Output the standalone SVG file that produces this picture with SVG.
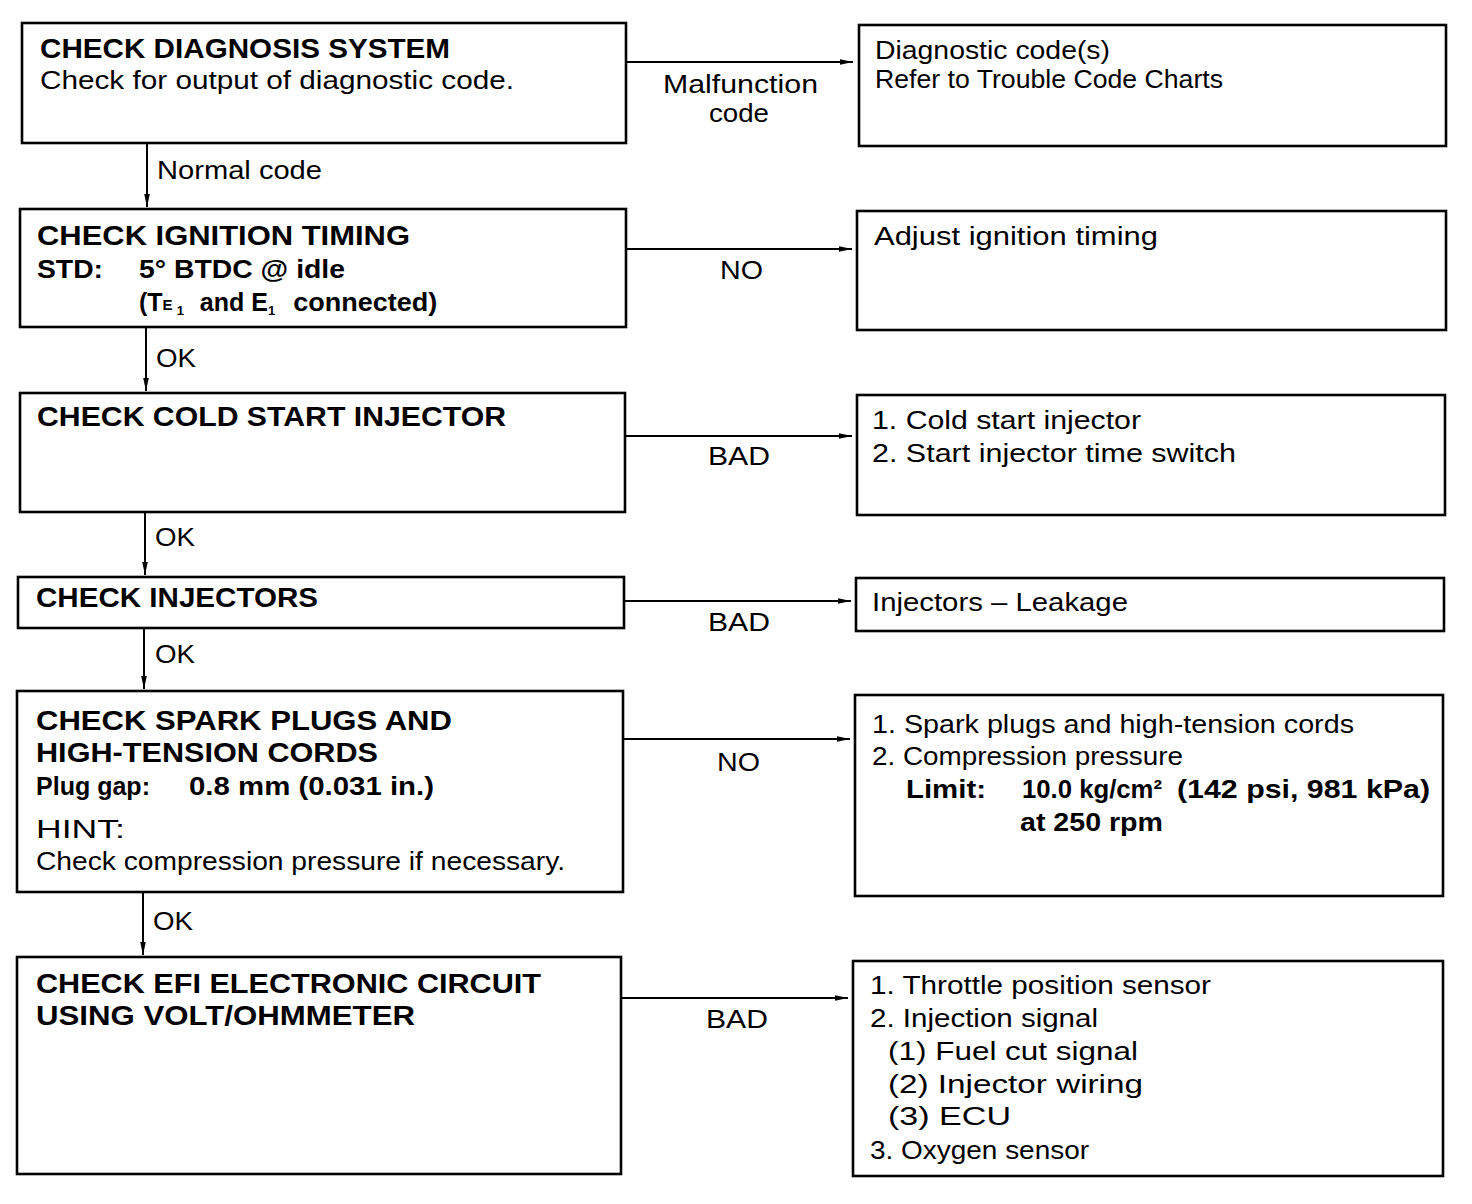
<svg xmlns="http://www.w3.org/2000/svg" width="1472" height="1204" viewBox="0 0 1472 1204">
<style>
.box{fill:#fff;stroke:#000;stroke-width:2.6}
.con{fill:none;stroke:#000;stroke-width:2}
text{font-family:"Liberation Sans",Arial,Helvetica,sans-serif;fill:#000}
.h{font-size:27px;font-weight:bold}
.b{font-size:25px;font-weight:bold}
.r{font-size:25px}
.l{font-size:25px}
</style>
<defs>
<marker id="ah" markerUnits="userSpaceOnUse" markerWidth="14" markerHeight="8" refX="13" refY="4" orient="auto">
<path d="M0,1.2 L13,4 L0,6.8 z" fill="#000"/>
</marker>
</defs>
<rect width="1472" height="1204" fill="#fff"/>
<g id="connectors">
<line class="con" x1="626" y1="62" x2="853" y2="62" marker-end="url(#ah)"/>
<line class="con" x1="626" y1="249" x2="852" y2="249" marker-end="url(#ah)"/>
<line class="con" x1="625" y1="436" x2="852" y2="436" marker-end="url(#ah)"/>
<line class="con" x1="624" y1="601" x2="851" y2="601" marker-end="url(#ah)"/>
<line class="con" x1="623" y1="739" x2="850" y2="739" marker-end="url(#ah)"/>
<line class="con" x1="621" y1="998" x2="848" y2="998" marker-end="url(#ah)"/>
<line class="con" x1="147" y1="143" x2="147" y2="207" marker-end="url(#ah)"/>
<line class="con" x1="146" y1="327" x2="146" y2="391" marker-end="url(#ah)"/>
<line class="con" x1="145" y1="512" x2="145" y2="575" marker-end="url(#ah)"/>
<line class="con" x1="144" y1="628" x2="144" y2="689" marker-end="url(#ah)"/>
<line class="con" x1="143" y1="892" x2="143" y2="955" marker-end="url(#ah)"/>
<text class="l" x="663" y="93" textLength="155" lengthAdjust="spacingAndGlyphs">Malfunction</text>
<text class="l" x="709" y="122" textLength="60" lengthAdjust="spacingAndGlyphs">code</text>
<text class="l" x="157" y="179" textLength="165" lengthAdjust="spacingAndGlyphs">Normal code</text>
<text class="l" x="720" y="279" textLength="43" lengthAdjust="spacingAndGlyphs">NO</text>
<text class="l" x="156" y="367" textLength="40" lengthAdjust="spacingAndGlyphs">OK</text>
<text class="l" x="708" y="465" textLength="62" lengthAdjust="spacingAndGlyphs">BAD</text>
<text class="l" x="155" y="546" textLength="40" lengthAdjust="spacingAndGlyphs">OK</text>
<text class="l" x="708" y="631" textLength="62" lengthAdjust="spacingAndGlyphs">BAD</text>
<text class="l" x="155" y="663" textLength="40" lengthAdjust="spacingAndGlyphs">OK</text>
<text class="l" x="717" y="771" textLength="43" lengthAdjust="spacingAndGlyphs">NO</text>
<text class="l" x="153" y="930" textLength="40" lengthAdjust="spacingAndGlyphs">OK</text>
<text class="l" x="706" y="1028" textLength="62" lengthAdjust="spacingAndGlyphs">BAD</text>
</g>
<g id="n1">
<rect class="box" x="22" y="23" width="604" height="120"/>
<text class="h" x="40" y="58" textLength="410" lengthAdjust="spacingAndGlyphs">CHECK DIAGNOSIS SYSTEM</text>
<text class="r" x="40" y="89" textLength="474" lengthAdjust="spacingAndGlyphs">Check for output of diagnostic code.</text>
</g>
<g id="n2">
<rect class="box" x="20" y="209" width="606" height="118"/>
<text class="h" x="37" y="245" textLength="373" lengthAdjust="spacingAndGlyphs">CHECK IGNITION TIMING</text>
<text class="b" x="37" y="278" textLength="66" lengthAdjust="spacingAndGlyphs">STD:</text>
<text class="b" x="139" y="278" textLength="206" lengthAdjust="spacingAndGlyphs">5° BTDC @ idle</text>
<text class="b" x="139" y="311">(T<tspan font-size="15" dy="-1">E</tspan><tspan font-size="13" dx="4" dy="5">1</tspan><tspan dx="16" dy="-4">and E</tspan><tspan font-size="13" dy="4">1</tspan><tspan dx="18" dy="-4" textLength="144" lengthAdjust="spacingAndGlyphs">connected)</tspan></text>
</g>
<g id="n3">
<rect class="box" x="20" y="393" width="605" height="119"/>
<text class="h" x="37" y="426" textLength="469" lengthAdjust="spacingAndGlyphs">CHECK COLD START INJECTOR</text>
</g>
<g id="n4">
<rect class="box" x="18" y="577" width="606" height="51"/>
<text class="h" x="36" y="607" textLength="282" lengthAdjust="spacingAndGlyphs">CHECK INJECTORS</text>
</g>
<g id="n5">
<rect class="box" x="17" y="691" width="606" height="201"/>
<text class="h" x="36" y="730" textLength="416" lengthAdjust="spacingAndGlyphs">CHECK SPARK PLUGS AND</text>
<text class="h" x="36" y="762" textLength="342" lengthAdjust="spacingAndGlyphs">HIGH-TENSION CORDS</text>
<text class="b" x="36" y="795" textLength="114" lengthAdjust="spacingAndGlyphs">Plug gap:</text>
<text class="b" x="189" y="795" textLength="245" lengthAdjust="spacingAndGlyphs">0.8 mm (0.031 in.)</text>
<text class="r" x="36" y="838" textLength="89" lengthAdjust="spacingAndGlyphs">HINT:</text>
<text class="r" x="36" y="870" textLength="529" lengthAdjust="spacingAndGlyphs">Check compression pressure if necessary.</text>
</g>
<g id="n6">
<rect class="box" x="17" y="957" width="604" height="217"/>
<text class="h" x="36" y="993" textLength="505" lengthAdjust="spacingAndGlyphs">CHECK EFI ELECTRONIC CIRCUIT</text>
<text class="h" x="36" y="1025" textLength="379" lengthAdjust="spacingAndGlyphs">USING VOLT/OHMMETER</text>
</g>
<g id="r1">
<rect class="box" x="859" y="25" width="587" height="121"/>
<text class="r" x="875" y="59" textLength="235" lengthAdjust="spacingAndGlyphs">Diagnostic code(s)</text>
<text class="r" x="875" y="88" textLength="348" lengthAdjust="spacingAndGlyphs">Refer to Trouble Code Charts</text>
</g>
<g id="r2">
<rect class="box" x="857" y="211" width="589" height="119"/>
<text class="r" x="874" y="245" textLength="284" lengthAdjust="spacingAndGlyphs">Adjust ignition timing</text>
</g>
<g id="r3">
<rect class="box" x="857" y="395" width="588" height="120"/>
<text class="r" x="872" y="429" textLength="269" lengthAdjust="spacingAndGlyphs">1. Cold start injector</text>
<text class="r" x="872" y="462" textLength="364" lengthAdjust="spacingAndGlyphs">2. Start injector time switch</text>
</g>
<g id="r4">
<rect class="box" x="856" y="578" width="588" height="53"/>
<text class="r" x="872" y="611" textLength="256" lengthAdjust="spacingAndGlyphs">Injectors – Leakage</text>
</g>
<g id="r5">
<rect class="box" x="855" y="695" width="588" height="201"/>
<text class="r" x="872" y="733" textLength="482" lengthAdjust="spacingAndGlyphs">1. Spark plugs and high-tension cords</text>
<text class="r" x="872" y="765" textLength="311" lengthAdjust="spacingAndGlyphs">2. Compression pressure</text>
<text class="b" x="906" y="798" textLength="80" lengthAdjust="spacingAndGlyphs">Limit:</text>
<text class="b" x="1022" y="798" textLength="140" lengthAdjust="spacingAndGlyphs">10.0 kg/cm²</text>
<text class="b" x="1177" y="798" textLength="253" lengthAdjust="spacingAndGlyphs">(142 psi, 981 kPa)</text>
<text class="b" x="1020" y="831" textLength="143" lengthAdjust="spacingAndGlyphs">at 250 rpm</text>
</g>
<g id="r6">
<rect class="box" x="853" y="961" width="590" height="215"/>
<text class="r" x="870" y="994" textLength="341" lengthAdjust="spacingAndGlyphs">1. Throttle position sensor</text>
<text class="r" x="870" y="1027" textLength="228" lengthAdjust="spacingAndGlyphs">2. Injection signal</text>
<text class="r" x="888" y="1060" textLength="250" lengthAdjust="spacingAndGlyphs">(1) Fuel cut signal</text>
<text class="r" x="888" y="1093" textLength="255" lengthAdjust="spacingAndGlyphs">(2) Injector wiring</text>
<text class="r" x="888" y="1125" textLength="123" lengthAdjust="spacingAndGlyphs">(3) ECU</text>
<text class="r" x="870" y="1159" textLength="219" lengthAdjust="spacingAndGlyphs">3. Oxygen sensor</text>
</g>
</svg>
